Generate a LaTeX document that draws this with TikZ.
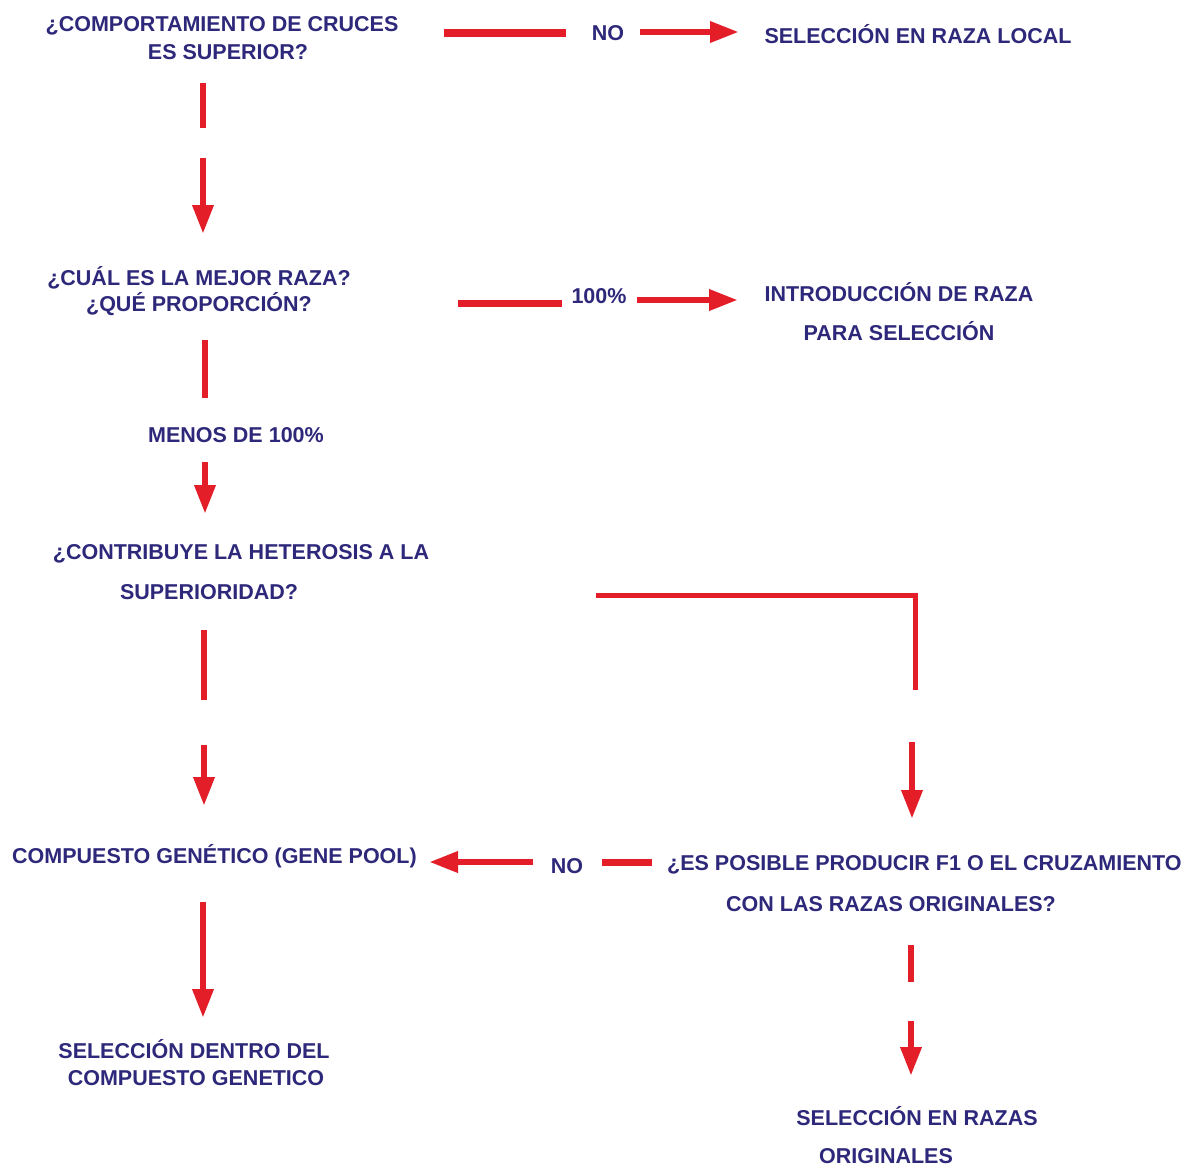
\documentclass[tikz,border=0pt]{standalone}
\usepackage{fontspec}
\setmainfont{Liberation Sans}
\usetikzlibrary{arrows.meta}
\definecolor{navy}{RGB}{46,40,122}
\definecolor{flowred}{RGB}{228,30,40}
\begin{document}
\begin{tikzpicture}[x=1pt,y=-1pt,
  txt/.style={text=navy,font=\fontsize{21.5}{26}\selectfont\bfseries,inner sep=0pt,anchor=base},
  txtl/.style={txt,anchor=base west},
  link/.style={draw=flowred,line width=6.5pt},
  arrowlink/.style={link,-{Triangle[length=29pt,width=20pt]}}]
\useasboundingbox (0,0) rectangle (1184,1168);
% texts
\node[txt] (t1a) at (222,31) {¿COMPORTAMIENTO DE CRUCES};
\node[txt] (t1b) at (228,59) {ES SUPERIOR?};
\node[txt] (no1) at (608,40) {NO};
\node[txt] (sel1) at (918,43) {SELECCIÓN EN RAZA LOCAL};
\node[txt] (t2a) at (199,285) {¿CUÁL ES LA MEJOR RAZA?};
\node[txt] (t2b) at (199,311) {¿QUÉ PROPORCIÓN?};
\node[txt] (p100) at (599,303) {100\%};
\node[txt] (intra) at (899,301) {INTRODUCCIÓN DE RAZA};
\node[txt] (intrb) at (899,340) {PARA SELECCIÓN};
\node[txt] (menos) at (236,442) {MENOS DE 100\%};
\node[txt] (t3a) at (241,559) {¿CONTRIBUYE LA HETEROSIS A LA};
\node[txt] (t3b) at (209,599) {SUPERIORIDAD?};
\node[txtl] (gp) at (12,863) {COMPUESTO GENÉTICO (GENE POOL)};
\node[txt] (no2) at (567,873) {NO};
\node[txtl] (t4a) at (667,870) {¿ES POSIBLE PRODUCIR F1 O EL CRUZAMIENTO};
\node[txt] (t4b) at (891,911) {CON LAS RAZAS ORIGINALES?};
\node[txt] (sra) at (917,1125) {SELECCIÓN EN RAZAS};
\node[txt] (srb) at (886,1163) {ORIGINALES};
\node[txt] (sda) at (194,1058) {SELECCIÓN DENTRO DEL};
\node[txt] (sdb) at (196,1085) {COMPUESTO GENETICO};
% connector end points
\coordinate (c1s) at (444,33); \coordinate (c1e) at (566,33);
\coordinate (a1s) at (640,32); \coordinate (a1e) at (739,32);
\coordinate (c2s) at (203,83); \coordinate (c2e) at (203,128);
\coordinate (a2s) at (203,158); \coordinate (a2e) at (203,234);
\coordinate (c3s) at (458,303); \coordinate (c3e) at (562,303);
\coordinate (a3s) at (637,300); \coordinate (a3e) at (738,300);
\coordinate (c4s) at (205,340); \coordinate (c4e) at (205,398);
\coordinate (a4s) at (205,462); \coordinate (a4e) at (205,514);
\coordinate (c5s) at (596,595); \coordinate (c5m) at (915,595); \coordinate (c5e) at (915,690);
\coordinate (a5s) at (912,742); \coordinate (a5e) at (912,819);
\coordinate (c6s) at (204,630); \coordinate (c6e) at (204,700);
\coordinate (a6s) at (204,745); \coordinate (a6e) at (204,806);
\coordinate (a7s) at (533,862); \coordinate (a7e) at (429,862);
\coordinate (c7s) at (602,862); \coordinate (c7e) at (652,862);
\coordinate (c8s) at (911,945); \coordinate (c8e) at (911,982);
\coordinate (a8s) at (911,1021); \coordinate (a8e) at (911,1076);
\coordinate (a9s) at (203,902); \coordinate (a9e) at (203,1018);
% connectors
\draw[link,line width=7.5pt] (c1s) -- (c1e);
\draw[arrowlink] (a1s) -- (a1e);
\draw[link] (c2s) -- (c2e);
\draw[arrowlink] (a2s) -- (a2e);
\draw[link,line width=7pt] (c3s) -- (c3e);
\draw[arrowlink] (a3s) -- (a3e);
\draw[link] (c4s) -- (c4e);
\draw[arrowlink] (a4s) -- (a4e);
\draw[link,line width=5pt] (c5s) -- (c5m) -- (c5e);
\draw[arrowlink] (a5s) -- (a5e);
\draw[link] (c6s) -- (c6e);
\draw[arrowlink] (a6s) -- (a6e);
\draw[arrowlink] (a7s) -- (a7e);
\draw[link,line width=7pt] (c7s) -- (c7e);
\draw[link] (c8s) -- (c8e);
\draw[arrowlink] (a8s) -- (a8e);
\draw[arrowlink] (a9s) -- (a9e);
\end{tikzpicture}
\end{document}
